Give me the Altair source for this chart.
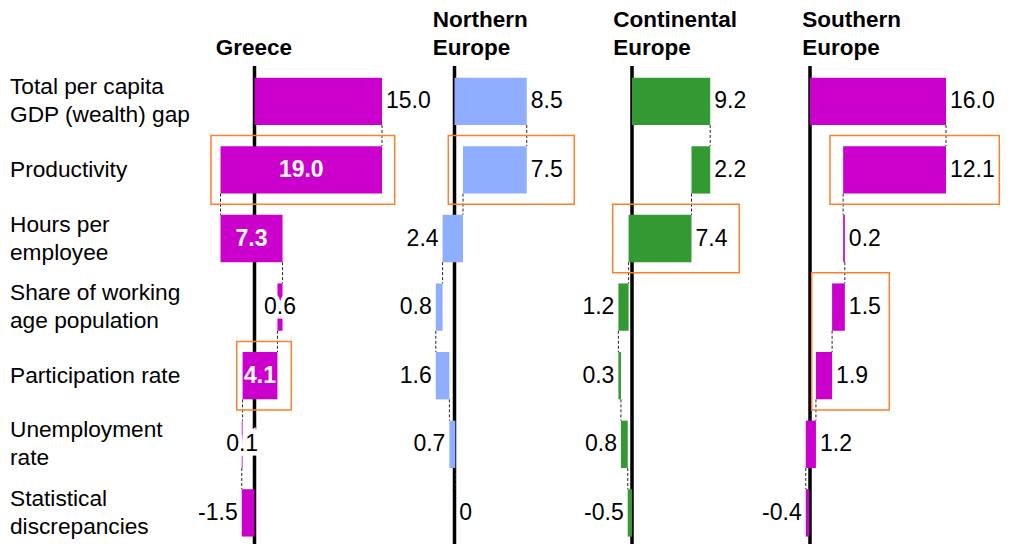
import altair as alt
import pandas as pd

# ---------------- data ----------------
row_names = [
    "Total per capita|GDP (wealth) gap",
    "Productivity",
    "Hours per|employee",
    "Share of working|age population",
    "Participation rate",
    "Unemployment|rate",
    "Statistical|discrepancies",
]

regions = ["Greece", "Northern|Europe", "Continental|Europe", "Southern|Europe"]

# signed steps of each waterfall (first = total gap, then the components walking back to 0)
greece_steps = [15.0, -19.0, 7.3, -0.6, -4.1, -0.1, 1.5]
northern_steps = [8.5, -7.5, -2.4, -0.8, 1.6, 0.7, 0.0]
continental_steps = [9.2, -2.2, -7.4, -1.2, 0.3, 0.8, 0.5]
southern_steps = [16.0, -12.1, 0.2, -1.5, -1.9, -1.2, 0.4]

greece_labels = ["15.0", "19.0", "7.3", "0.6", "4.1", "0.1", "-1.5"]
northern_labels = ["8.5", "7.5", "2.4", "0.8", "1.6", "0.7", "0"]
continental_labels = ["9.2", "2.2", "7.4", "1.2", "0.3", "0.8", "-0.5"]
southern_labels = ["16.0", "12.1", "0.2", "1.5", "1.9", "1.2", "-0.4"]

# highlighted boxes: (x from, x to, first row, last row)
greece_boxes = [(-5.12, 16.49, 1, 1), (-2.09, 4.33, 4, 4)]
northern_boxes = [(-0.73, 14.09, 1, 1)]
continental_boxes = [(-2.27, 12.62, 2, 2)]
southern_boxes = [(2.35, 22.27, 1, 1), (0.2, 9.33, 3, 4)]

# ---------------- style / layout ----------------
FONT = "Liberation Sans"
FS_ROW = 22.7
FS_VAL = 23
FS_TITLE = 22.5
LH = 28             # line height of wrapped texts (px)
PX = 8.5            # pixels per unit on every panel
ROW0 = 101.3        # pixel centre of first row
STEP = 68.6         # pixel distance between rows
H = 544
HALF = 0.345        # half bar height in row units
BOXPAD = 0.5
AXIS_TOP = (66 - ROW0) / STEP
TITLE_BASE = 55     # baseline of the last title line (px)

y_dom = [-ROW0 / STEP, (H - ROW0) / STEP]
yscale = alt.Scale(domain=y_dom, reverse=True, nice=False, zero=False)

panels = [
    dict(title=regions[0], steps=greece_steps, labels=greece_labels, boxes=greece_boxes,
         color="#CC00CC", axis_px=254.5, left=200, width=200, title_x=-4.55,
         places=["r", "in", "in", "c", "in", "c", "l"]),
    dict(title=regions[1], steps=northern_steps, labels=northern_labels, boxes=northern_boxes,
         color="#8FAEFF", axis_px=454.5, left=400, width=180, title_x=-2.55,
         places=["r", "r", "l", "l", "l", "l", "r"]),
    dict(title=regions[2], steps=continental_steps, labels=continental_labels, boxes=continental_boxes,
         color="#339933", axis_px=632, left=580, width=180, title_x=-2.2,
         places=["r", "r", "r", "l", "l", "l", "l"]),
    dict(title=regions[3], steps=southern_steps, labels=southern_labels, boxes=southern_boxes,
         color="#CC00CC", axis_px=810, left=760, width=250, title_x=-0.9,
         places=["r", "r", "r", "r", "r", "r", "l"]),
]


def make_panel(p):
    starts, ends = [], []
    cur = 0.0
    for s in p["steps"]:
        starts.append(cur)
        cur = round(cur + s, 4)
        ends.append(cur)
    n = len(starts)
    df = pd.DataFrame({
        "row": list(range(n)),
        "start": starts,
        "end": ends,
        "label": p["labels"],
        "place": p["places"],
    })
    df["lo"] = df[["start", "end"]].min(axis=1)
    df["hi"] = df[["start", "end"]].max(axis=1)
    df["mid"] = (df["start"] + df["end"]) / 2
    df["y1"] = df["row"] - HALF
    df["y2"] = df["row"] + HALF

    conn = pd.DataFrame({
        "x": ends[:-1],
        "y1": [i + HALF for i in range(n - 1)],
        "y2": [i + 1 - HALF for i in range(n - 1)],
    })
    boxes = pd.DataFrame([
        {"x1": b[0], "x2": b[1], "y1": b[2] - BOXPAD, "y2": b[3] + BOXPAD} for b in p["boxes"]
    ])
    axis_df = pd.DataFrame({"x": [0.0], "y1": [AXIS_TOP], "y2": [y_dom[1]]})
    nlines = len(p["title"].split("|"))
    title_df = pd.DataFrame({"t": [p["title"]], "x": [p["title_x"]],
                             "y": [(TITLE_BASE - (nlines - 1) * LH - ROW0) / STEP]})

    xdom = [(p["left"] - p["axis_px"]) / PX, (p["left"] + p["width"] - p["axis_px"]) / PX]
    xs = alt.Scale(domain=xdom, nice=False, zero=False)

    def X(f):
        return alt.X(f, type="quantitative", scale=xs, axis=None)

    def Y(f):
        return alt.Y(f, type="quantitative", scale=yscale, axis=None)

    base = alt.Chart(df)

    axis_line = alt.Chart(axis_df).mark_rule(color="black", strokeWidth=3.5).encode(
        x=X("x"), y=Y("y1"), y2="y2")
    connectors = alt.Chart(conn).mark_rule(color="#222222", strokeWidth=1, strokeDash=[3, 2]).encode(
        x=X("x"), y=Y("y1"), y2="y2")
    bars = base.mark_rect(color=p["color"]).encode(x=X("start"), x2="end", y=Y("y1"), y2="y2")
    box = alt.Chart(boxes).mark_rect(fillOpacity=0, stroke="#FF7F2A", strokeWidth=1.5).encode(
        x=X("x1"), x2="x2", y=Y("y1"), y2="y2")

    txt = dict(font=FONT, fontSize=FS_VAL, baseline="middle")
    lab_r = base.transform_filter("datum.place == 'r'").mark_text(
        align="left", dx=4, color="black", **txt).encode(x=X("hi"), y=Y("row"), text="label:N")
    lab_l = base.transform_filter("datum.place == 'l'").mark_text(
        align="right", dx=-4, color="black", **txt).encode(x=X("lo"), y=Y("row"), text="label:N")
    lab_in = base.transform_filter("datum.place == 'in'").mark_text(
        align="center", color="white", fontWeight="bold", **txt).encode(x=X("mid"), y=Y("row"), text="label:N")
    halo = base.transform_filter("datum.place == 'c'").mark_text(
        align="center", color="white", stroke="white", strokeWidth=9, **txt).encode(
        x=X("mid"), y=Y("row"), text="label:N")
    lab_c = base.transform_filter("datum.place == 'c'").mark_text(
        align="center", color="black", **txt).encode(x=X("mid"), y=Y("row"), text="label:N")

    title = alt.Chart(title_df).transform_calculate(lines="split(datum.t, '|')").mark_text(
        align="left", baseline="alphabetic", font=FONT, fontSize=FS_TITLE, fontWeight="bold",
        lineHeight=LH, color="black").encode(x=X("x"), y=Y("y"), text="lines:N")

    return alt.layer(axis_line, connectors, bars, box, lab_r, lab_l, lab_in, halo, lab_c, title).properties(
        width=p["width"], height=H)


rows_df = pd.DataFrame({"row": list(range(len(row_names))), "name": row_names})
rows_df["ly"] = [r - (len(nm.split("|")) - 1) * (LH / 2) / STEP for r, nm in zip(rows_df["row"], rows_df["name"])]
row_panel = alt.Chart(rows_df).transform_calculate(lines="split(datum.name, '|')").mark_text(
    align="left", baseline="middle", font=FONT, fontSize=FS_ROW, lineHeight=LH, color="black").encode(
    x=alt.value(10),
    y=alt.Y("ly:Q", scale=yscale, axis=None),
    text="lines:N",
).properties(width=200, height=H)

chart = alt.hconcat(row_panel, *[make_panel(p) for p in panels], spacing=0, bounds="flush").properties(
    padding=0
).configure_view(stroke=None)

chart.save("out.html", embed_options={"renderer": "svg", "actions": False})
